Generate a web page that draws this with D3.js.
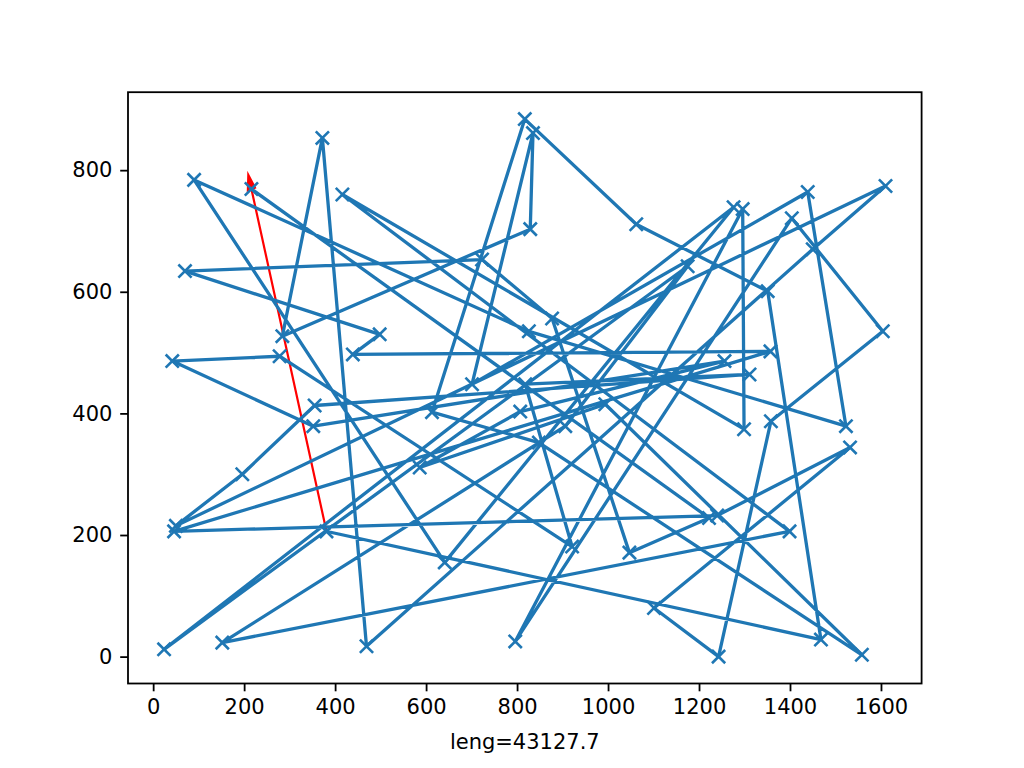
<!DOCTYPE html>
<head>
    <meta charset="utf-8">
    <script src="https://d3js.org/d3.v7.min.js"></script>
</head>
<style>
    body { margin: 0; background: #fff; }
    text { font-family: "DejaVu Sans", sans-serif; }
</style>
<body>
    <div id="chart"></div>
</body>

<script>
    // tour in visiting order (red arrow closes it: last -> first)
    const routeX = [216, 1222, 1047, 877, 723, 70, 498, 439, 1357, 46,
                    1240, 1532, 1101, 1243, 1358, 1604, 1404, 796, 1296, 1299,
                    416, 1399, 152, 906, 1175, 24, 1276, 641, 90, 826,
                    1523, 1439, 701, 835, 829, 284, 372, 469, 1450, 1610,
                    50, 196, 355, 1311, 818, 921, 278, 42, 352, 1256,
                    807, 586, 994, 1558, 848, 613, 817, 1062, 1351, 1468,
                    381];
    const routeY = [769, 228, 171, 556, 653, 634, 530, 497, 502, 206,
                    232, 344, 80, 0, 387, 535, 721, 25, 736, 374,
                    760, 206, 23, 379, 642, 12, 739, 155, 784, 535,
                    379, 764, 448, 861, 703, 527, 853, 17, 670, 774,
                    215, 300, 413, 464, 448, 181, 494, 486, 379, 486,
                    403, 311, 415, 3, 352, 402, 884, 711, 601, 28,
                    206];
    const xTicks = [0, 200, 400, 600, 800, 1000, 1200, 1400, 1600];
    const yTicks = [0, 200, 400, 600, 800];
    const tourLabel = "leng=43127.7";

    const margin = {top: 92.2, right: 102.4, bottom: 84.5, left: 128},
        width = 1024 - margin.left - margin.right,
        height = 768 - margin.top - margin.bottom;

    const svg = d3.select("#chart")
        .append("svg")
        .attr("width", 1024)
        .attr("height", 768)
        .append("g")
        .attr("transform", `translate(${margin.left},${margin.top})`);

    // matplotlib style 5% margins
    const pad = (ext) => { const p = (ext[1] - ext[0]) * 0.05; return [ext[0] - p, ext[1] + p]; };
    const x = d3.scaleLinear().domain(pad(d3.extent(routeX))).range([0, width]);
    const y = d3.scaleLinear().domain(pad(d3.extent(routeY))).range([height, 0]);

    const blue = "#1f77b4";
    const pts = routeX.map((d, i) => [d, routeY[i]]);

    // red arrow from last point back to first (drawn under the route, like a patch)
    const last = pts[pts.length - 1], first = pts[0];
    const headW = d3.max(routeX) / 100, headL = 1.5 * headW, shaftW = 0.001;
    const dx = first[0] - last[0], dy = first[1] - last[1];
    const len = Math.hypot(dx, dy);
    const ux = dx / len, uy = dy / len, px = -uy, py = ux;
    const at = (t, s) => [x(last[0] + ux * t + px * s), y(last[1] + uy * t + py * s)];
    const arrowPts = [
        at(0, shaftW / 2), at(len, shaftW / 2), at(len, headW / 2),
        at(len + headL, 0),
        at(len, -headW / 2), at(len, -shaftW / 2), at(0, -shaftW / 2)
    ];
    svg.append("polygon")
        .attr("points", arrowPts.map(p => p.join(",")).join(" "))
        .attr("fill", "red")
        .attr("stroke", "red")
        .attr("stroke-width", 2.2)
        .attr("stroke-linejoin", "miter");

    // route line
    svg.append("path")
        .datum(pts)
        .attr("fill", "none")
        .attr("stroke", blue)
        .attr("stroke-width", 3.3)
        .attr("stroke-linejoin", "round")
        .attr("stroke-linecap", "square")
        .attr("d", d3.line().x(d => x(d[0])).y(d => y(d[1])));

    // 'x' markers
    const m = 6.6;
    const marks = svg.append("g")
        .selectAll("g")
        .data(pts)
        .join("g")
        .attr("transform", d => `translate(${x(d[0])},${y(d[1])})`);
    marks.append("path")
        .attr("d", `M${-m},${-m}L${m},${m}M${-m},${m}L${m},${-m}`)
        .attr("stroke", blue)
        .attr("stroke-width", 2.6)
        .attr("fill", "none");

    // axes
    const xAxis = svg.append("g")
        .attr("transform", `translate(0,${height})`)
        .call(d3.axisBottom(x).tickValues(xTicks).tickFormat(d3.format("d"))
            .tickSize(7.8).tickPadding(7.8).tickSizeOuter(0));
    const yAxis = svg.append("g")
        .call(d3.axisLeft(y).tickValues(yTicks).tickFormat(d3.format("d"))
            .tickSize(7.8).tickPadding(7.8).tickSizeOuter(0));
    [xAxis, yAxis].forEach(a => {
        a.select(".domain").remove();
        a.selectAll(".tick line").attr("stroke", "#000").attr("stroke-width", 1.8);
        a.selectAll(".tick text")
            .attr("fill", "#000")
            .style("font-family", "'DejaVu Sans', sans-serif")
            .style("font-size", "21px");
    });

    // frame
    svg.append("rect")
        .attr("width", width)
        .attr("height", height)
        .attr("fill", "none")
        .attr("stroke", "#000")
        .attr("stroke-width", 1.8);

    svg.append("text")
        .attr("x", width / 2)
        .attr("y", height + 66)
        .attr("text-anchor", "middle")
        .style("font-size", "21px")
        .attr("fill", "#000")
        .text(tourLabel);
</script>
